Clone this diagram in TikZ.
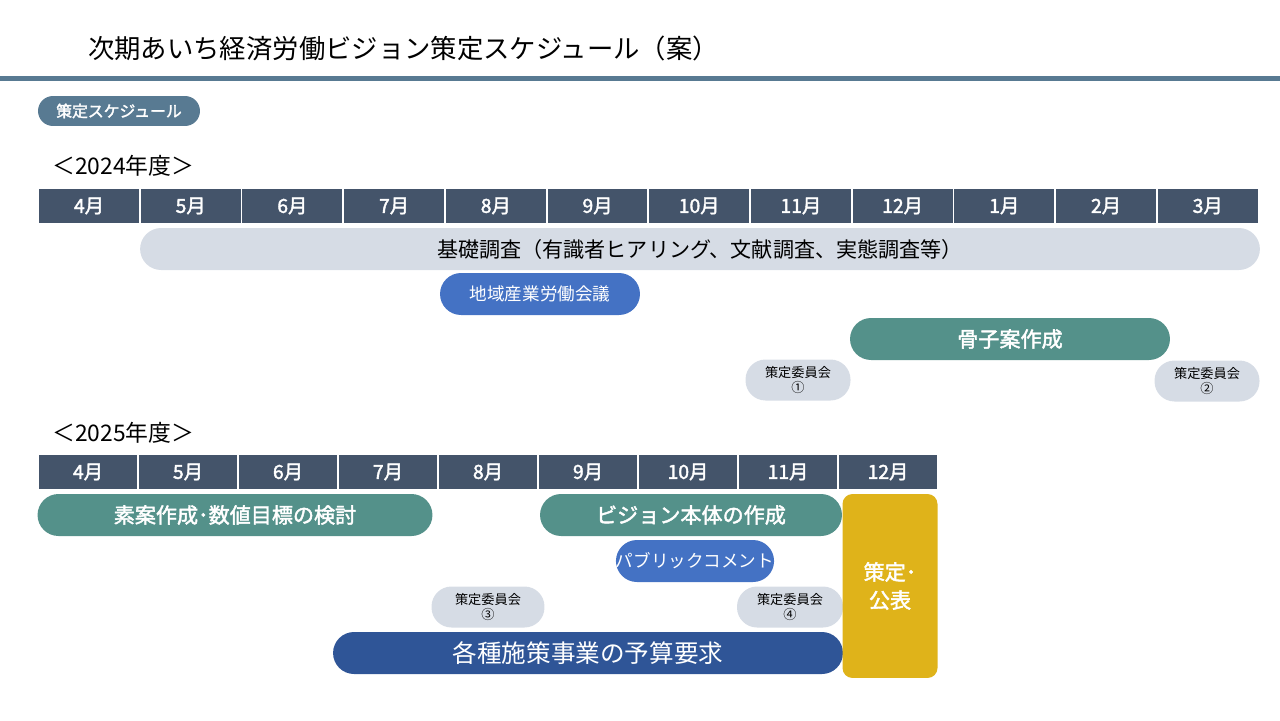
\documentclass[tikz,border=0pt]{standalone}
\usepackage{fontspec}
\setmainfont{Noto Sans CJK JP}
\newfontfamily\jpbold[FakeBold=2]{Noto Sans CJK JP}
\usetikzlibrary{positioning}
\definecolor{headline}{HTML}{587A92}
\definecolor{monthfill}{HTML}{44546A}
\definecolor{palegray}{HTML}{D6DCE5}
\definecolor{midblue}{HTML}{4472C4}
\definecolor{teal}{HTML}{54918A}
\definecolor{navy}{HTML}{2F5597}
\definecolor{gold}{HTML}{DFB31A}
\tikzstyle{month} = [rectangle, draw=white, line width=1pt, fill=monthfill, text=white, minimum height=0.72cm, inner sep=0pt, font=\jpbold\fontsize{11}{11}\selectfont]
\tikzstyle{pill} = [rectangle, rounded corners=0.42cm, minimum height=0.84cm, inner sep=0pt, text centered]
\tikzstyle{survey} = [pill, fill=palegray, font=\fontsize{12}{12}\selectfont]
\tikzstyle{meeting} = [pill, fill=midblue, text=white, font=\fontsize{10}{10}\selectfont]
\tikzstyle{task} = [pill, fill=teal, text=white, font=\jpbold\fontsize{12}{12}\selectfont]
\tikzstyle{committee} = [pill, fill=palegray, rounded corners=0.4cm, minimum height=0.82cm, align=center, font=\fontsize{7.5}{9}\selectfont]
\begin{document}
\begin{tikzpicture}[x=0.02cm,y=-0.02cm]
\useasboundingbox (0,0) rectangle (1280,720);
% title
\node (title) [anchor=west, font=\fontsize{15}{15}\selectfont] at (82,48) {次期あいち経済労働ビジョン策定スケジュール（案）};
\fill[headline] (0,76) rectangle (1280,81);
\node (tag) [pill, fill=headline, text=white, minimum width=3.24cm, minimum height=0.6cm, rounded corners=0.3cm, font=\jpbold\fontsize{9}{9}\selectfont] at (119,111) {策定スケジュール};
% 2024
\node (fy24) [anchor=west, font=\fontsize{13}{13}\selectfont] at (46,166) {＜2024年度＞};
\foreach \m [count=\i from 0] in {4,5,6,7,8,9,10,11,12,1,2,3}
  \node (a\i) [month, minimum width=2.034cm] at ({89+101.7*\i},206) {\m 月};
\node (survey) [survey, minimum width=22.4cm] at (700,249) {基礎調査（有識者ヒアリング、文献調査、実態調査等）};
\node (council) [meeting, minimum width=4cm] at (540,294) {地域産業労働会議};
\node (outline) [task, minimum width=6.4cm] at (1010,339) {骨子案作成};
\node (com1) [committee, minimum width=2.1cm] at (798,380) {策定委員会\\①};
\node (com2) [committee, minimum width=2.1cm] at (1207,381) {策定委員会\\②};
% 2025
\node (fy25) [anchor=west, font=\fontsize{13}{13}\selectfont] at (46,433) {＜2025年度＞};
\foreach \m [count=\i from 0] in {4,5,6,7,8,9,10,11,12}
  \node (b\i) [month, minimum width=2cm] at ({88+100*\i},472) {\m 月};
\node (draft) [task, minimum width=7.9cm] at (235,515) {素案作成･数値目標の検討};
\node (vision) [task, minimum width=6.04cm] at (691,515) {ビジョン本体の作成};
\node (public) [meeting, minimum width=3.1cm] at (695,561) {パブリックコメント};
\node (com3) [committee, minimum width=2.26cm] at (488,607) {策定委員会\\③};
\node (com4) [committee, minimum width=2.12cm] at (790,607) {策定委員会\\④};
\node (budget) [pill, fill=navy, text=white, minimum width=10.2cm, font=\fontsize{14}{14}\selectfont] at (588,653) {各種施策事業の予算要求};
\node (final) [rectangle, rounded corners=0.2cm, fill=gold, text=white, minimum width=1.9cm, minimum height=3.68cm, align=center, font=\jpbold\fontsize{12}{16}\selectfont] at (890,586) {策定･\\公表};
\end{tikzpicture}
\end{document}
